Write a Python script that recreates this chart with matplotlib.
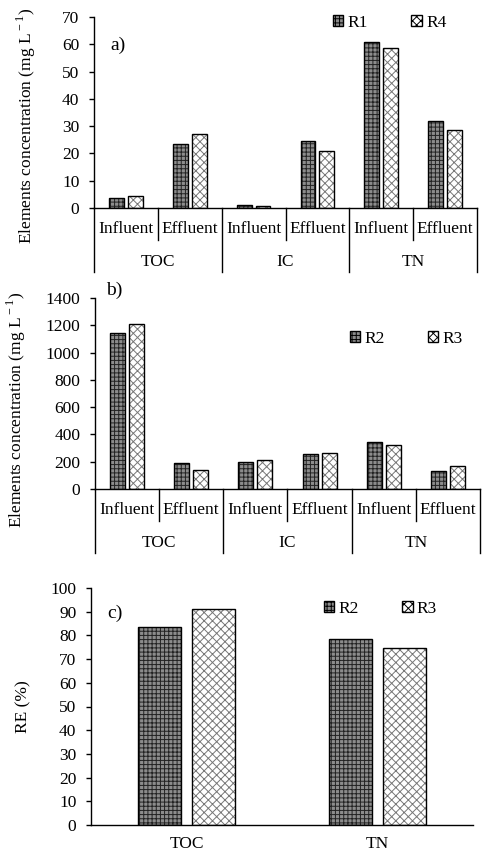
import matplotlib
matplotlib.use("Agg")
import matplotlib.pyplot as plt
import numpy as np
from matplotlib.patches import Patch
from matplotlib.transforms import blended_transform_factory

plt.rcParams['font.family'] = ['Liberation Serif', 'DejaVu Serif']
plt.rcParams['mathtext.fontset'] = 'custom'
plt.rcParams['mathtext.rm'] = 'Liberation Serif'
plt.rcParams['hatch.linewidth'] = 0.7

# ---------------- data ----------------
groups = ["TOC", "IC", "TN"]
stages = ["Influent", "Effluent"]

a_R1 = [3.8, 23.5, 1.2, 24.7, 61.0, 31.9]
a_R4 = [4.3, 27.0, 0.9, 21.0, 58.8, 28.5]

b_R2 = [1146, 193, 200, 256, 341, 134]
b_R3 = [1210, 139, 212, 266, 324, 168]

c_cats = ["TOC", "TN"]
c_R2 = [83.5, 78.6]
c_R3 = [91.3, 74.5]

a_ticks = [0, 10, 20, 30, 40, 50, 60, 70]
b_ticks = [0, 200, 400, 600, 800, 1000, 1200, 1400]
c_ticks = [0, 10, 20, 30, 40, 50, 60, 70, 80, 90, 100]

FS = 12.5
DARK_FACE, DARK_HATCH = '#8c8c8c', '#222222'
LIGHT_FACE, LIGHT_HATCH = 'white', '#777777'
DARK_PAT, LIGHT_PAT = '++++', 'xxxx'

fig = plt.figure(figsize=(4.93, 8.58), dpi=100)


def draw_bars(ax, x, vals, width, face, hatchcol, hatch):
    ax.bar(x, vals, width, color=face, edgecolor=hatchcol, hatch=hatch, linewidth=0, zorder=2)
    ax.bar(x, vals, width, fill=False, edgecolor='black', linewidth=1.0, zorder=3)


def style_axis(ax, ticks):
    for s in ['top', 'right']:
        ax.spines[s].set_visible(False)
    ax.spines['left'].set_linewidth(1.0)
    ax.spines['bottom'].set_linewidth(1.0)
    ax.set_yticks(ticks)
    ax.set_ylim(ticks[0], ticks[-1])
    ax.tick_params(axis='y', direction='out', length=3.5, width=1.0, pad=7, labelsize=FS)


def legend_handles(n1, n2):
    return [Patch(facecolor=DARK_FACE, edgecolor='black', hatch=DARK_PAT, label=n1),
            Patch(facecolor=LIGHT_FACE, edgecolor='black', hatch=LIGHT_PAT, label=n2)]


def grouped_panel(rect, s1, s2, n1, n2, ticks, ylabel_xy, legend_xy, tag, tag_xy):
    ax = fig.add_axes(rect)
    x = np.arange(len(s1))
    w = 0.234
    off = 0.148
    draw_bars(ax, x - off, s1, w, DARK_FACE, DARK_HATCH, DARK_PAT)
    draw_bars(ax, x + off, s2, w, LIGHT_FACE, LIGHT_HATCH, LIGHT_PAT)
    ax.set_xlim(-0.5, len(s1) - 0.5)
    style_axis(ax, ticks)
    ax.set_xticks([])
    tr = blended_transform_factory(ax.transData, ax.transAxes)
    hpx = rect[3] * 858
    for i in range(len(s1)):
        ax.text(i, -21 / hpx, stages[i % 2], transform=tr, ha='center', va='center', fontsize=FS)
    for g, name in enumerate(groups):
        ax.text(2 * g + 0.5, -54 / hpx, name, transform=tr, ha='center', va='center', fontsize=FS)
    for k in range(len(s1) + 1):
        xb = k - 0.5
        yend = -64 / hpx if k % 2 == 0 else -32 / hpx
        ax.plot([xb, xb], [0, yend], transform=tr, color='black', lw=1.0, clip_on=False)
    ax.set_ylabel(r'Elements concentration (mg L$^{\rm -1}$)', fontsize=FS)
    ax.yaxis.set_label_coords(*ylabel_xy)
    ax.legend(handles=legend_handles(n1, n2), ncol=2, frameon=False, loc='center right',
              bbox_to_anchor=legend_xy, borderpad=0, borderaxespad=0,
              handlelength=0.6, handleheight=0.6, handletextpad=0.25,
              columnspacing=2.5, fontsize=FS)
    ax.text(tag_xy[0], tag_xy[1], tag, transform=ax.transAxes, ha='left', va='center', fontsize=14)
    return ax


# panel a
grouped_panel([94 / 493, 1 - 208 / 858, 383 / 493, 191 / 858], a_R1, a_R4, 'R1', 'R4',
              a_ticks, (-0.146, 0.43), (0.92, 0.969), 'a)', (0.042, 0.853))
# panel b
grouped_panel([95 / 493, 1 - 489 / 858, 385 / 493, 191 / 858], b_R2, b_R3, 'R2', 'R3',
              b_ticks, (-0.174, 0.414), (0.956, 0.785), 'b)', (0.029, 1.04))

# panel c
axc = fig.add_axes([91 / 493, 1 - 825 / 858, 382 / 493, 237 / 858])
xc = np.arange(len(c_cats))
draw_bars(axc, xc - 0.14, c_R2, 0.225, DARK_FACE, DARK_HATCH, DARK_PAT)
draw_bars(axc, xc + 0.14, c_R3, 0.225, LIGHT_FACE, LIGHT_HATCH, LIGHT_PAT)
axc.set_xlim(-0.5, 1.5)
style_axis(axc, c_ticks)
axc.set_xticks(xc)
axc.set_xticklabels(c_cats, fontsize=FS)
axc.tick_params(axis='x', length=0, pad=8)
axc.set_ylabel('RE (%)', fontsize=FS)
axc.yaxis.set_label_coords(-0.157, 0.5)
axc.legend(handles=legend_handles('R2', 'R3'), ncol=2, frameon=False, loc='center right',
           bbox_to_anchor=(0.906, 0.911), borderpad=0, borderaxespad=0,
           handlelength=0.6, handleheight=0.6, handletextpad=0.25,
           columnspacing=2.5, fontsize=FS)
axc.text(0.042, 0.894, 'c)', transform=axc.transAxes, ha='left', va='center', fontsize=14)

fig.savefig('out.png', dpi=100)
